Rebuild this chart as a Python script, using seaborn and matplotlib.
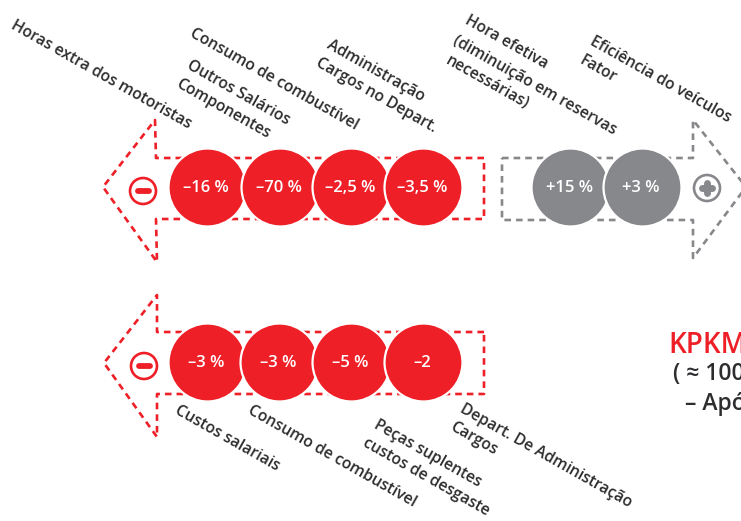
# -*- coding: utf-8 -*-
import pandas as pd
import matplotlib
matplotlib.use("Agg")
import matplotlib.pyplot as plt
import seaborn as sns

RED = "#ee1f27"
GRAY = "#87888b"
DARK = "#2d2d2f"

# valores
top_neg_values = ["–16 %", "–70 %", "–2,5 %", "–3,5 %"]
top_pos_values = ["+15 %", "+3 %"]
bottom_values = ["–3 %", "–3 %", "–5 %", "–2"]

top_neg_labels = [
    "Horas extra dos motoristas",
    "Consumo de combustível",
    "Outros Salários",
    "Componentes",
    "Administração",
    "Cargos no Depart.",
]
top_pos_labels = [
    "Hora efetiva",
    "(diminuição em reservas",
    "necessárias)",
    "Eficiência do veículos",
    "Fator",
]
bottom_labels = [
    "Custos salariais",
    "Consumo de combustível",
    "Peças suplentes",
    "custos de desgaste",
    "Depart. De Administração",
    "Cargos",
]
summary_lines = ["KPKM", "( ≈ 100", "– Apó"]

# posições em pixels da figura
top_neg_x = [207, 280, 351, 423]
top_pos_x = [570, 642]
bottom_x = [207, 279, 351, 423]
top_y = 187
bottom_y = 362
top_neg_anchor = [(10, 28), (189, 36), (186, 68), (175, 87), (326, 48), (315, 66)]
top_pos_anchor = [(464, 23), (452, 44), (445, 63), (589, 44), (578, 63)]
bottom_anchor = [(174, 413), (247, 413), (373, 428), (362, 446), (459, 412), (449, 430)]

sns.set_style("white")
plt.rcParams["font.family"] = ["Open Sans", "DejaVu Sans"]

fig = plt.figure(figsize=(7.41, 5.21), dpi=100)
ax = fig.add_axes([0, 0, 1, 1])
ax.set_xlim(0, 741)
ax.set_ylim(521, 0)
ax.axis("off")


def outline(xs, ys, color):
    ax.plot(xs, ys, color=color, lw=1.9, ls=(0, (2.5, 1.9)), zorder=1, clip_on=True)


# contornos das setas
outline([484, 156, 155, 103, 157, 156, 484, 484], [158, 158, 120, 187, 262, 219, 219, 158], RED)
outline([502, 693, 693, 746, 693, 693, 502, 502], [158, 158, 120, 187, 258, 220, 220, 158], GRAY)
outline([484, 157, 157, 104, 157, 157, 484, 484], [332, 332, 295, 363, 437, 394, 394, 332], RED)


def bubbles(xs, y, values, color):
    for i, (x, val) in enumerate(zip(xs, values)):
        df = pd.DataFrame({"x": [x], "y": [y]})
        sns.scatterplot(data=df, x="x", y="y", s=3150, color=color, edgecolor="white",
                        linewidth=1.6, ax=ax, zorder=3 + i, legend=False, clip_on=False)
        ax.text(x - 1, y + 1, val, color="white", fontsize=12, fontweight="semibold",
                ha="center", va="center", zorder=20)


bubbles(top_neg_x, top_y, top_neg_values, RED)
bubbles(top_pos_x, top_y, top_pos_values, GRAY)
bubbles(bottom_x, bottom_y, bottom_values, RED)


def sign_icon(x, y, color, plus=False):
    df = pd.DataFrame({"x": [x], "y": [y]})
    sns.scatterplot(data=df, x="x", y="y", s=350, facecolor="none", edgecolor=color,
                    linewidth=1.9, ax=ax, zorder=5, legend=False)
    if plus:
        ax.plot([x - 5, x + 5], [y, y], color=color, lw=5, solid_capstyle="round", zorder=5)
        ax.plot([x, x], [y - 5, y + 5], color=color, lw=5, solid_capstyle="round", zorder=5)
    else:
        ax.plot([x - 5.5, x + 5.5], [y, y], color=color, lw=4.2, solid_capstyle="round", zorder=5)


sign_icon(143, 191, RED)
sign_icon(707, 188, GRAY, plus=True)
sign_icon(144, 366, RED)

# rótulos inclinados
for labels, anchors in [(top_neg_labels, top_neg_anchor),
                        (top_pos_labels, top_pos_anchor),
                        (bottom_labels, bottom_anchor)]:
    for txt, (x, y) in zip(labels, anchors):
        ax.text(x, y, txt, color=DARK, fontsize=11.3, fontweight="semibold", rotation=-29.5,
                rotation_mode="anchor", ha="left", va="baseline", zorder=25)

ax.text(668, 353, summary_lines[0], color=RED, fontsize=20, fontweight="semibold", va="baseline")
ax.text(673, 380, summary_lines[1], color=DARK, fontsize=16.5, fontweight="semibold", va="baseline")
ax.text(685, 410, summary_lines[2], color=DARK, fontsize=16.5, fontweight="semibold", va="baseline")

fig.savefig("out.png", dpi=100)
